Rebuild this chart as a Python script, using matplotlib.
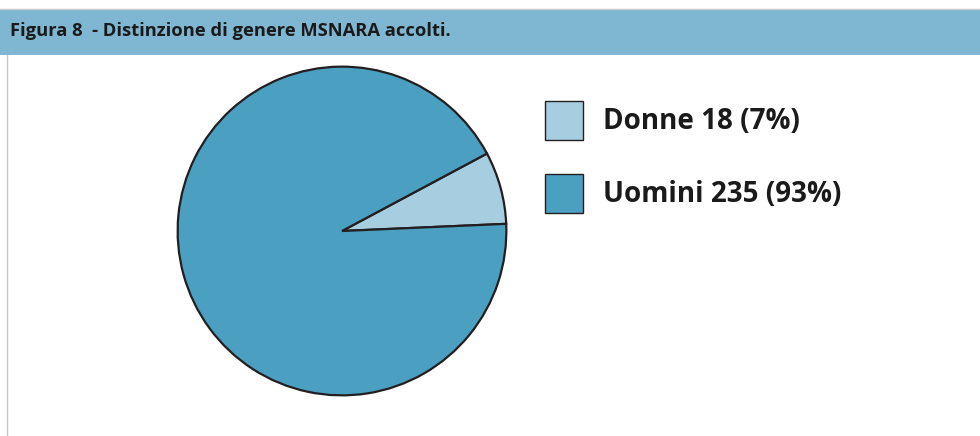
import matplotlib
matplotlib.use("Agg")
import matplotlib.pyplot as plt
from matplotlib.patches import Rectangle

categories = ["Donne", "Uomini"]
values = [18, 235]
colors = ["#a6cee0", "#4ba0c2"]
title = "Figura 8  - Distinzione di genere MSNARA accolti."

W, H = 980, 436
fig = plt.figure(figsize=(W / 100, H / 100), dpi=100)
fig.patch.set_facecolor("white")

# header band
fig.patches.append(Rectangle((0, 1 - 55 / H), 1, 45 / H, transform=fig.transFigure,
                             facecolor="#7fb7d3", edgecolor="none"))
fig.lines.append(plt.Line2D([0, 1], [1 - 9.5 / H] * 2, transform=fig.transFigure,
                            color="#c8c8c8", lw=1))
fig.lines.append(plt.Line2D([6.5 / W] * 2, [0, 1 - 55 / H], transform=fig.transFigure,
                            color="#c8c8c8", lw=1))
fig.text(10 / W, 1 - 31 / H, title, fontsize=13.2, fontweight="bold", family="Open Sans",
         color="#1a1a1a", va="center", ha="left")

# pie
cx, cy, r = 342, 231, 166
ax = fig.add_axes([(cx - r) / W, (H - cy - r) / H, 2 * r / W, 2 * r / H])
ax.pie(values, colors=colors, startangle=2.5, counterclock=True,
       wedgeprops=dict(edgecolor="#231f20", linewidth=1.6))
ax.set_xlim(-1.01, 1.01)
ax.set_ylim(-1.01, 1.01)
ax.set_aspect("equal")
ax.axis("off")

# legend
total = sum(values)
for i, (cat, val, col) in enumerate(zip(categories, values, colors)):
    top = 101 + i * 73
    fig.patches.append(Rectangle((545 / W, 1 - (top + 39) / H), 38 / W, 39 / H,
                                 transform=fig.transFigure, facecolor=col,
                                 edgecolor="#231f20", lw=1))
    fig.text(603 / W, 1 - (top + 20) / H, f"{cat} {val} ({round(val / total * 100)}%)",
             fontsize=20, fontweight="bold", family="Open Sans", color="#1a1a1a",
             va="center", ha="left")

fig.savefig("out.png", dpi=100)
